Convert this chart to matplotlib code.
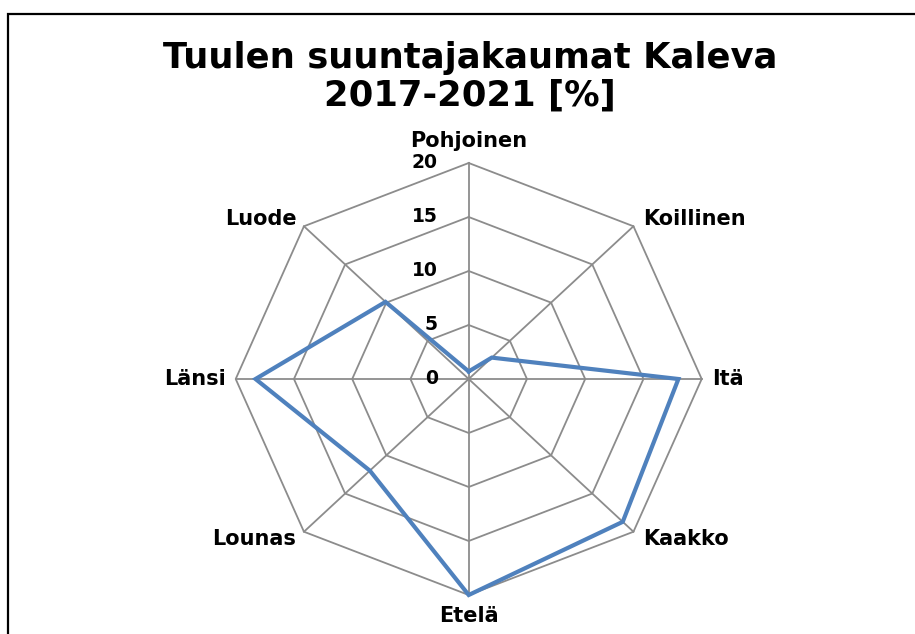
import numpy as np
import matplotlib
matplotlib.use("Agg")
import matplotlib.pyplot as plt
from matplotlib.patches import Rectangle

directions = ["Pohjoinen", "Koillinen", "Itä", "Kaakko", "Etelä", "Lounas", "Länsi", "Luode"]
shares = [0.7, 2.8, 18.0, 18.7, 20.0, 12.0, 18.3, 10.1]
rings = [0, 5, 10, 15, 20]
title = "Tuulen suuntajakaumat Kaleva\n2017-2021 [%]"

W, H = 915, 634
cx, cy = 468.7, 379.0      # centre of the chart in pixels
sx, sy = 233 / 20, 216 / 20  # pixels per unit, horizontal / vertical

fig = plt.figure(figsize=(W / 100, H / 100), dpi=100)
ax = fig.add_axes([0, 0, 1, 1])
ax.set_xlim(-cx / sx, (W - cx) / sx)
ax.set_ylim(-(H - cy) / sy, cy / sy)
ax.axis("off")

n = len(directions)
ang = np.arange(n) * 2 * np.pi / n
ux, uy = np.sin(ang), np.cos(ang)

grid_col = "#8c8c8c"
rmax = rings[-1]
for r in rings[1:]:
    ax.plot(np.append(ux, ux[0]) * r, np.append(uy, uy[0]) * r,
            color=grid_col, lw=1.3, zorder=1)
for i in range(n):
    ax.plot([0, ux[i] * rmax], [0, uy[i] * rmax], color=grid_col, lw=1.3, zorder=1)

vals = np.array(shares)
ax.plot(np.append(ux * vals, ux[0] * vals[0]), np.append(uy * vals, uy[0] * vals[0]),
        color="#4f81bd", lw=3.0, solid_joinstyle="miter", zorder=3)

for r in rings:
    ax.annotate(str(r), (0, r), xytext=(-31 / 1.389, 0), textcoords="offset points",
                ha="right", va="center", fontsize=13.5, fontweight="bold", color="black")

offsets = {
    0: ((0, 12), "center", "bottom"),
    1: ((10, 7), "left", "center"),
    2: ((10, 0), "left", "center"),
    3: ((10, -7), "left", "center"),
    4: ((0, -11), "center", "top"),
    5: ((-8, -7), "right", "center"),
    6: ((-10, 0), "right", "center"),
    7: ((-7, 7), "right", "center"),
}
for i, name in enumerate(directions):
    (dx, dy), ha, va = offsets[i]
    ax.annotate(name, (ux[i] * rmax, uy[i] * rmax), xytext=(dx / 1.389, dy / 1.389),
                textcoords="offset points", ha=ha, va=va,
                fontsize=15, fontweight="bold", color="black")

fig.text(470 / W, 1 - 77 / H, title, ha="center", va="center", fontsize=25.5,
         fontweight="bold", linespacing=1.15)

frame = Rectangle((8 / W, -0.1), 1.2, 1 - 14 / H + 0.1, transform=fig.transFigure,
                  fill=False, edgecolor="black", lw=1.6, clip_on=False)
fig.patches.append(frame)

fig.savefig("out.png", dpi=100)
